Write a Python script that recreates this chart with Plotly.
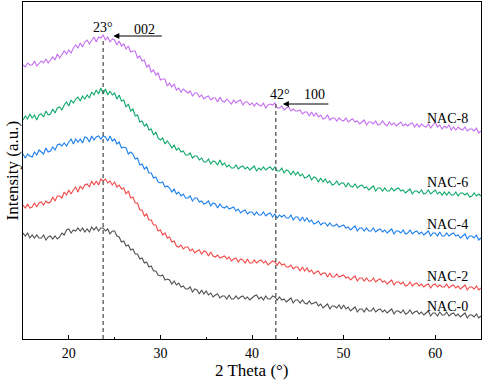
import plotly.graph_objects as go

# 2-theta scan grid (degrees), 0.25 deg step
two_theta = [15 + 0.25 * i for i in range(201)]

# Intensities (a.u., stacked as displayed)
nac8 = [274,272,276,274, 274,278,273,276, 278,276,280,276, 279,282,279,285, 281,285,288,285,
        289,286,291,294, 291,296,292,297, 299,295,299,302, 297,302,301,304, 299,302,297,300,
        299,294,298,293, 295,290,293,287, 288,288,281,283, 278,279,272,274, 267,269,264,266,
        259,260,260,253, 256,252,255,249, 251,247,250,248, 246,248,243,246, 246,242,244,240,
        242,243,239,241, 241,237,242,238, 237,240,237,235, 239,236,238,239, 234,237,237,234,
        236,233,236,234, 233,236,231,234, 235,234,236,231, 231,233,229,231, 232,228,230,228,
        228,229,225,227, 227,223,227,223, 226,222,224,220, 221,224,219,221, 221,218,221,219,
        218,221,217,219, 220,217,218,215, 217,219,214,217, 217,215,218,214, 215,218,215,213,
        217,214,216,213, 215,217,213,215, 213,215,216,212, 215,212,215,213, 212,215,211,214,
        217,212,214,210, 213,211,214,209, 212,209,212,210, 209,212,208,210, 210,208,211,206,
        208]

nac6 = [219,223,220,225, 221,224,219,224, 225,222,228,224, 225,230,226,231, 232,229,234,237,
        233,239,236,240, 242,238,243,240, 244,241,247,244, 249,245,251,245, 250,244,248,244,
        246,240,244,238, 239,232,235,228, 230,223,224,217, 218,213,215,209, 210,204,207,201,
        199,201,195,198, 195,191,194,189, 191,187,188,184, 184,186,181,183, 183,179,181,177,
        177,180,175,178, 177,174,179,174, 176,172,174,171, 171,174,170,172, 173,170,172,169,
        171,173,168,171, 169,172,169,171, 172,169,172,168, 168,171,166,169, 168,164,168,164,
        167,163,165,161, 162,164,159,162, 161,157,161,157, 160,156,158,154, 155,158,154,156,
        156,152,156,153, 152,155,151,153, 154,151,152,149, 151,153,148,151, 151,148,151,148,
        148,151,148,150, 151,148,149,146, 148,150,145,148, 148,146,149,145, 146,149,145,147,
        149,145,147,144, 147,144,147,144, 144,147,143,146, 146,144,146,142, 143,146,143,145,
        143]

nac4 = [185,181,185,183, 182,187,184,189, 187,185,191,187, 188,192,189,194, 195,193,196,193,
        197,200,195,200, 197,200,196,202, 201,197,203,199, 202,203,200,203, 202,198,203,198,
        200,195,197,191, 192,191,185,187, 185,180,181,174, 175,170,172,166, 166,161,162,157,
        156,157,152,153, 151,147,150,145, 147,143,145,141, 141,143,138,141, 141,137,138,135,
        136,138,133,136, 135,131,135,132, 131,133,130,131, 132,128,130,126, 128,129,125,127,
        127,124,127,124, 124,127,123,125, 126,122,125,121, 124,122,124,121, 121,124,119,122,
        122,118,122,118, 121,117,119,115, 116,118,114,116, 116,113,116,113, 113,115,112,113,
        114,111,112,109, 111,113,108,111, 111,108,111,108, 108,111,107,109, 110,107,109,106,
        108,110,105,108, 108,106,109,105, 106,109,105,107, 108,105,107,104, 106,108,103,106,
        106,103,107,103, 103,106,103,105, 106,103,104,101, 103,105,100,103, 103,101,104,99,
        101]

nac2 = [134,131,135,131, 132,136,132,136, 137,134,138,136, 137,142,138,143, 143,141,147,144,
        149,145,149,152, 147,153,150,154, 155,152,158,154, 158,154,160,158, 160,156,158,154,
        157,152,154,150, 151,145,148,141, 142,136,136,129, 129,123,125,119, 119,114,114,108,
        109,104,106,101, 102,97,98,93, 92,94,90,92, 92,88,90,86, 88,89,85,88,
        87,83,87,83, 82,84,81,82, 83,80,82,78, 80,81,77,80, 79,76,80,76,
        76,79,76,78, 79,76,78,74, 76,78,77,74, 77,74,75,72, 72,74,70,72,
        72,68,72,68, 71,67,69,65, 67,68,64,66, 66,62,66,62, 62,65,62,63,
        64,61,62,59, 61,63,58,61, 61,58,61,58, 58,61,57,59, 60,57,58,55,
        57,59,54,57, 57,55,57,53, 54,57,53,55, 56,53,55,52, 54,55,51,54,
        55,52,54,52, 52,55,51,53, 54,51,53,50, 52,54,49,52, 52,50,53,49,
        51]

nac0 = [106,103,106,101, 104,101,104,101, 101,104,99,102, 103,100,103,100, 102,106,104,109,
        110,106,109,108, 111,108,111,107, 110,107,112,109, 112,108,111,111, 108,110,105,108,
        108,103,102,97, 98,93,94,89, 90,85,85,80, 81,76,77,72, 73,68,68,64,
        63,64,59,60, 59,55,58,54, 56,52,53,50, 50,52,47,50, 49,45,49,45,
        48,44,46,42, 44,45,41,43, 43,40,44,40, 40,43,40,42, 43,40,42,39,
        41,43,44,40, 42,39,43,40, 40,43,42,39, 42,39,40,37, 39,41,36,39,
        39,36,39,36, 35,38,35,36, 37,33,35,31, 33,35,30,33, 33,31,34,30,
        34,30,32,28, 30,32,27,30, 30,27,31,28, 28,31,27,29, 30,27,29,26,
        28,30,25,28, 28,26,29,25, 26,29,25,27, 28,25,27,24, 26,28,23,26,
        26,23,27,24, 24,27,23,25, 26,23,25,22, 24,26,21,24, 24,22,25,21,
        23]

sample_names = ["NAC-0", "NAC-2", "NAC-4", "NAC-6", "NAC-8"]
sample_values = [nac0, nac2, nac4, nac6, nac8]
sample_colors = ["#505050", "#F24848", "#1B7FEE", "#10A86C", "#C46EF0"]

peak_positions = [23.75, 42.6]
peak_labels = ["23°", "42°"]
plane_labels = ["002", "100"]

FONT = "Liberation Serif, Times New Roman, serif"

fig = go.Figure()
for name, vals, color in zip(sample_names, sample_values, sample_colors):
    fig.add_trace(go.Scatter(x=two_theta, y=vals, mode="lines", name=name,
                             line=dict(color=color, width=1.1), showlegend=False,
                             hoverinfo="skip"))

# dashed reference lines
dash_tops = [299, 235]
for xp, top in zip(peak_positions, dash_tops):
    fig.add_shape(type="line", x0=xp, x1=xp, y0=0, y1=top, xref="x", yref="y",
                  line=dict(color="#555555", width=1.3, dash="4px,3px"), layer="above")

annotations = []
# sample labels at the right
label_y = [33, 63, 115, 157, 221]
for name, ly in zip(sample_names, label_y):
    annotations.append(dict(x=63.75, y=ly, xref="x", yref="y", text=name, showarrow=False,
                            xanchor="right", yanchor="middle",
                            font=dict(family=FONT, size=14, color="black")))

# peak angle labels
annotations.append(dict(x=23.78, y=312, xref="x", yref="y", text=peak_labels[0], showarrow=False,
                        xanchor="center", yanchor="middle", font=dict(family=FONT, size=14, color="black")))
annotations.append(dict(x=43.05, y=245, xref="x", yref="y", text=peak_labels[1], showarrow=False,
                        xanchor="center", yanchor="middle", font=dict(family=FONT, size=14, color="black")))
# plane labels
annotations.append(dict(x=28.24, y=310, xref="x", yref="y", text=plane_labels[0], showarrow=False,
                        xanchor="center", yanchor="middle", font=dict(family=FONT, size=14, color="black")))
annotations.append(dict(x=46.85, y=245, xref="x", yref="y", text=plane_labels[1], showarrow=False,
                        xanchor="center", yanchor="middle", font=dict(family=FONT, size=14, color="black")))
# arrows
annotations.append(dict(x=24.86, y=303, xref="x", yref="y", ax=50, ay=0, text="", showarrow=True,
                        arrowhead=2, arrowsize=1.2, arrowwidth=1, arrowcolor="black"))
annotations.append(dict(x=43.37, y=235, xref="x", yref="y", ax=47, ay=0, text="", showarrow=True,
                        arrowhead=2, arrowsize=1.2, arrowwidth=1, arrowcolor="black"))
# axis titles
annotations.append(dict(x=0, y=0.5, xref="paper", yref="paper", text="Intensity (a.u.)",
                        textangle=-90, showarrow=False, xanchor="center", yanchor="middle",
                        xshift=-11, font=dict(family=FONT, size=17, color="black")))
annotations.append(dict(x=0.5, y=0, xref="paper", yref="paper", text="2 Theta (°)",
                        showarrow=False, xanchor="center", yanchor="middle",
                        yshift=-31, font=dict(family=FONT, size=17, color="black")))

fig.update_layout(
    width=484, height=380,
    margin=dict(l=23, r=3, t=2, b=41),
    plot_bgcolor="white", paper_bgcolor="white",
    annotations=annotations,
    xaxis=dict(range=[15, 65], tick0=0, dtick=10, ticks="inside", ticklen=4, tickwidth=1,
               tickcolor="black", showline=True, linecolor="black", linewidth=1, mirror=True,
               showgrid=False, zeroline=False, ticklabelstandoff=1,
               tickfont=dict(family=FONT, size=14, color="black"),
               minor=dict(ticks="inside", ticklen=2, tickwidth=1, tickcolor="black",
                          tick0=0, dtick=5, showgrid=False)),
    yaxis=dict(range=[0, 337], showticklabels=False, ticks="", showline=True, linecolor="black",
               linewidth=1, mirror=True, showgrid=False, zeroline=False),
)

fig.write_html("out.html", config={"displayModeBar": False},
               post_script="document.body.style.margin='0';document.body.style.padding='0';document.body.style.overflow='hidden';")
